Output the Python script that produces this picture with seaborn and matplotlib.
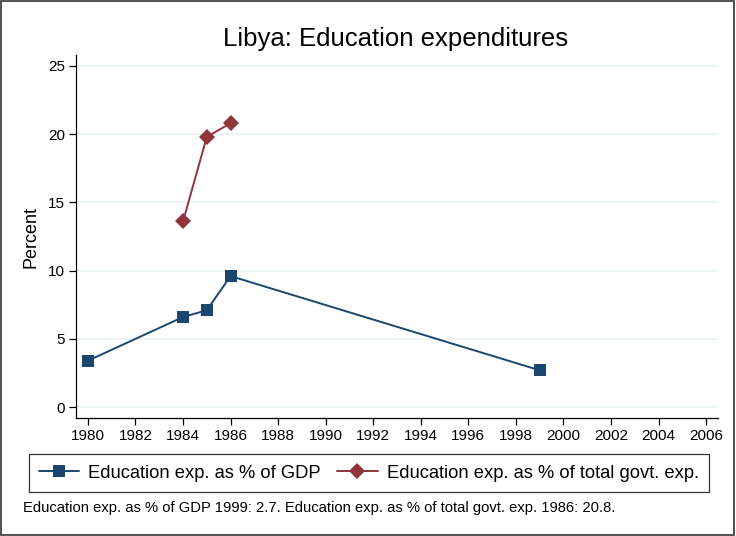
import seaborn as sns
import matplotlib.pyplot as plt
import pandas as pd
from matplotlib.patches import Rectangle
from matplotlib.lines import Line2D

# data
gdp_years = [1980, 1984, 1985, 1986, 1999]
gdp_values = [3.4, 6.6, 7.1, 9.6, 2.7]
govt_years = [1984, 1985, 1986]
govt_values = [13.6, 19.8, 20.8]
x_ticks = list(range(1980, 2007, 2))
y_ticks = [0, 5, 10, 15, 20, 25]

gdp_label = "Education exp. as % of GDP"
govt_label = "Education exp. as % of total govt. exp."
blue = "#1a476f"
red = "#90353b"

df = pd.concat([
    pd.DataFrame({"Year": gdp_years, "Percent": gdp_values, "Series": gdp_label}),
    pd.DataFrame({"Year": govt_years, "Percent": govt_values, "Series": govt_label}),
])

sns.set_style("ticks")
plt.rcParams["font.family"] = ["Liberation Sans", "DejaVu Sans"]
plt.rcParams["text.color"] = "black"
plt.rcParams["axes.labelcolor"] = "black"
plt.rcParams["xtick.color"] = "black"
plt.rcParams["ytick.color"] = "black"

fig = plt.figure(figsize=(7.36, 5.36), dpi=100)
ax = fig.add_axes([0.1033, 0.2201, 0.8722, 0.6773])

sns.lineplot(data=df, x="Year", y="Percent", hue="Series", style="Series",
             palette={gdp_label: blue, govt_label: red},
             markers={gdp_label: "s", govt_label: "D"}, dashes=False,
             markersize=8, markeredgewidth=0, linewidth=1.4, legend=False, ax=ax)

ax.set_xlim(1979.5, 2006.5)
ax.set_ylim(-0.8, 25.8)
ax.set_xticks(x_ticks)
ax.set_yticks(y_ticks)
ax.yaxis.grid(True, color="#eaf2f3", linewidth=1.2)
ax.xaxis.grid(False)
for s in ["top", "right"]:
    ax.spines[s].set_visible(False)
for s in ["left", "bottom"]:
    ax.spines[s].set_color("black")
    ax.spines[s].set_linewidth(0.9)
ax.tick_params(axis="both", direction="out", length=5, width=0.9, color="black",
               labelsize=11, pad=3, bottom=True, left=True)
ax.set_xlabel("")
ax.set_ylabel("Percent", fontsize=13, labelpad=6)

fig.text(0.537, 0.928, "Libya: Education expenditures", ha="center", va="center", fontsize=18.5)

handles = [
    Line2D([], [], color=blue, marker="s", markersize=8, markeredgewidth=0, linewidth=1.4),
    Line2D([], [], color=red, marker="D", markersize=8, markeredgewidth=0, linewidth=1.4),
]
leg = fig.legend(handles, [gdp_label, govt_label], loc="center",
                 bbox_to_anchor=(0.501, 0.1175), ncol=2, fontsize=13.2, frameon=True,
                 fancybox=False, edgecolor="black", handlelength=2.2, columnspacing=0.9,
                 handletextpad=0.5, borderpad=0.55)
leg.get_frame().set_linewidth(0.9)

fig.text(0.031, 0.052,
         "Education exp. as % of GDP 1999: 2.7. Education exp. as % of total govt. exp. 1986: 20.8.",
         ha="left", va="center", fontsize=10.6)

fig.patches.append(Rectangle((0.001, 0.001), 0.996, 0.997, transform=fig.transFigure,
                             fill=False, edgecolor="#333333", linewidth=1.2))

fig.savefig("out.png", dpi=100)
